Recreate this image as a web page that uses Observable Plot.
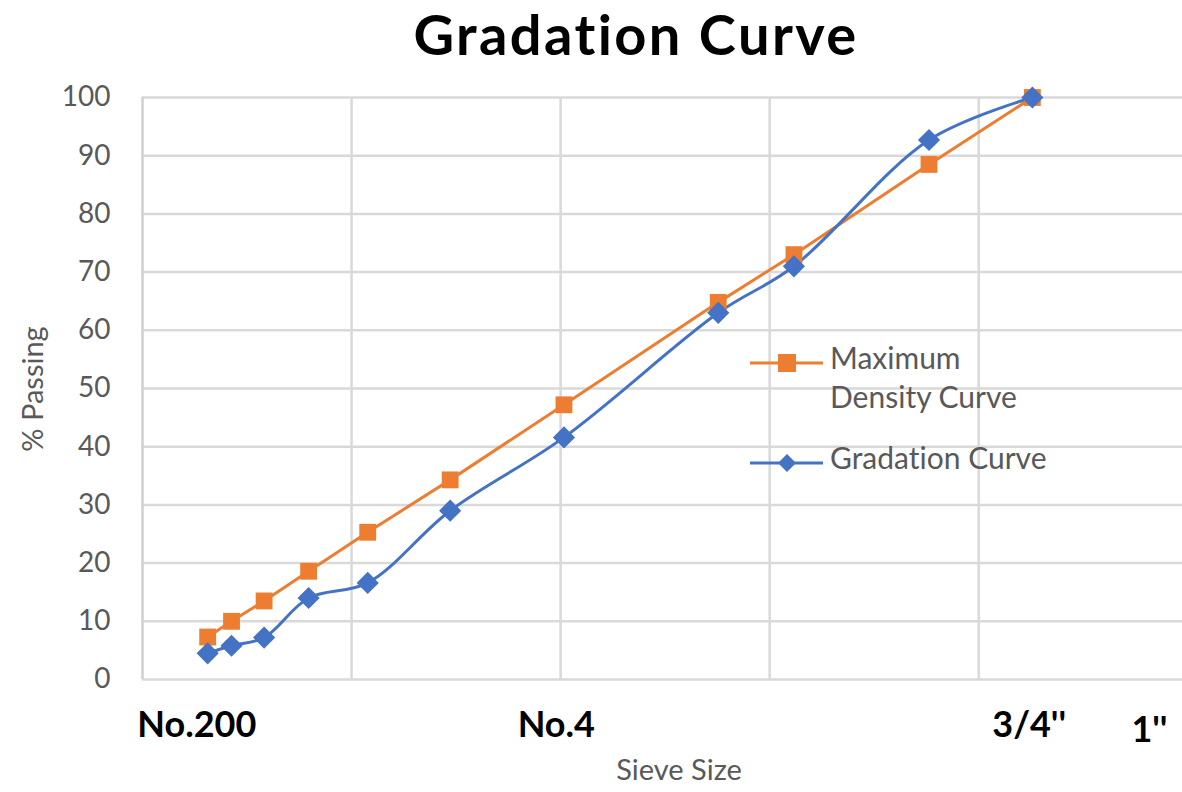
<!DOCTYPE html>
<html>
<head>
<meta charset="utf-8">
<script src="https://cdn.jsdelivr.net/npm/d3@7"></script>
<script src="https://cdn.jsdelivr.net/npm/@observablehq/plot@0.6"></script>
<style>
  html, body { margin: 0; padding: 0; background: #fff; }
  #wrap { position: relative; width: 1182px; height: 792px; font-family: Lato, "Open Sans", sans-serif; font-variant-ligatures: none; font-feature-settings: "liga" 0, "clig" 0; }
  #wrap svg.plot { position: absolute; left: 0; top: 0; }
  #wrap svg text { font-variant-ligatures: none; font-feature-settings: "liga" 0, "clig" 0; }
  .title { position: absolute; left: 336px; width: 600px; top: 0px; text-align: center; font-size: 56px; line-height: normal; letter-spacing: 2.4px; font-weight: 700; color: #000; white-space: nowrap; }
  .xtitle { position: absolute; left: 529px; width: 300px; top: 754px; text-align: center; font-size: 29px; line-height: 29px; color: #595959; white-space: nowrap; }
  .ytitle { position: absolute; left: 31px; top: 389px; font-size: 29px; line-height: 29px; color: #595959; transform: translate(-50%, -50%) rotate(-90deg); white-space: nowrap; }
  .legend { position: absolute; left: 748px; top: 338px; color: #595959; font-size: 30px; line-height: 39px; }
  .legend .item { position: absolute; left: 0; display: flex; align-items: flex-start; white-space: nowrap; }
  .legend svg { display: block; }
</style>
</head>
<body>
<div id="wrap"></div>
<script>
// ---- data ----
const sieveSizes = [0.075, 0.15, 0.3, 0.6, 1.18, 2.36, 4.75, 9.5, 12.5, 19, 25];   // mm
const maxDensityPassing = [7.3, 10, 13.5, 18.6, 25.3, 34.3, 47.2, 64.8, 73, 88.5, 100];
const gradationPassing = [4.5, 5.8, 7.2, 14, 16.6, 29, 41.6, 63, 71, 92.7, 100];
const yTicks = [0, 10, 20, 30, 40, 50, 60, 70, 80, 90, 100];
const xLabelNames = ["No.200", "No.4", "3/4''"];
const xLabelAt = [0.05, 4.56, 24.8];      // where the labels sit along the sieve axis
const xLabelNames2 = ["1''"];
const xLabelAt2 = [32.9];
const gridPowerSteps = [1, 2, 3, 4];       // vertical grid lines at equal steps of size^0.45

const exponent = 0.45;
const maxRows = sieveSizes.map((s, i) => ({size: s, pct: maxDensityPassing[i]}));
const gradRows = sieveSizes.map((s, i) => ({size: s, pct: gradationPassing[i]}));
const gridX = gridPowerSteps.map(u => Math.pow(u, 1 / exponent));

const orange = "#ED7D31", blue = "#4472C4", gridColor = "#d9d9d9";

const chart = Plot.plot({
  width: 1182,
  height: 792,
  marginLeft: 142,
  marginRight: 0,
  marginTop: 97,
  marginBottom: 113,
  style: {fontFamily: "Lato, 'Open Sans', sans-serif", background: "#fff"},
  x: {type: "pow", exponent: exponent, domain: [0, 35.35]},
  y: {domain: [0, 100]},
  marks: [
    Plot.ruleY(yTicks, {stroke: gridColor, strokeWidth: 2.5}),
    Plot.ruleX(gridX, {stroke: gridColor, strokeWidth: 2.5}),
    Plot.ruleX([0], {stroke: "#cfcfcf", strokeWidth: 2.5}),
    Plot.axisY({ticks: yTicks, tickSize: 0, tickPadding: 32, fontSize: 28, fill: "#595959", label: null}),
    Plot.axisX({ticks: [], label: null}),
    Plot.line(maxRows, {x: "size", y: "pct", stroke: orange, strokeWidth: 3}),
    Plot.line(gradRows, {x: "size", y: "pct", stroke: blue, strokeWidth: 3, curve: "catmull-rom"}),
    Plot.dot(maxRows, {x: "size", y: "pct", symbol: "square", r: 9.5, fill: orange, stroke: "none"}),
    Plot.dot(gradRows, {x: "size", y: "pct", symbol: d3.symbolDiamond2, r: 10, fill: blue, stroke: "none"}),
    Plot.text(xLabelNames, {x: (d, i) => xLabelAt[i], text: d => d, frameAnchor: "bottom", dy: 46, lineAnchor: "middle", fontSize: 36, fontWeight: 700, fill: "#000"}),
    Plot.text(xLabelNames2, {x: (d, i) => xLabelAt2[i], text: d => d, frameAnchor: "bottom", dy: 51, lineAnchor: "middle", fontSize: 36, fontWeight: 700, fill: "#000"})
  ]
});
chart.classList.add("plot");

const wrap = document.getElementById("wrap");
wrap.appendChild(chart);

function addDiv(cls, text) {
  const d = document.createElement("div");
  d.className = cls;
  d.textContent = text;
  wrap.appendChild(d);
  return d;
}
addDiv("title", "Gradation Curve");
addDiv("xtitle", "Sieve Size");
addDiv("ytitle", "% Passing");

// legend
const legend = document.createElement("div");
legend.className = "legend";
legend.innerHTML = `
  <div class="item" style="top:0px">
    <svg width="82" height="39"><line x1="2" y1="25" x2="75" y2="25" stroke="${orange}" stroke-width="3"/><rect x="30" y="16" width="18" height="18" fill="${orange}"/></svg>
    <div>Maximum<br>Density Curve</div>
  </div>
  <div class="item" style="top:100px">
    <svg width="82" height="39"><line x1="2" y1="25" x2="75" y2="25" stroke="${blue}" stroke-width="3"/><polygon points="39,16 48,25 39,34 30,25" fill="${blue}"/></svg>
    <div>Gradation Curve</div>
  </div>`;
wrap.appendChild(legend);
</script>
</body>
</html>
